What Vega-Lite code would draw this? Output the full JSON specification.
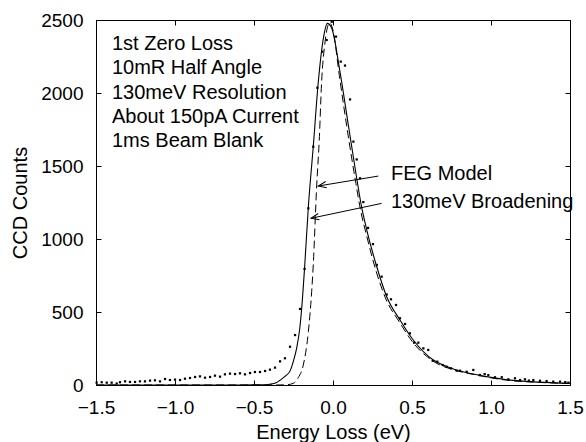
{
  "$schema": "https://vega.github.io/schema/vega-lite/v6.json",
  "width": 474,
  "height": 365,
  "autosize": {"type": "none"},
  "padding": {"left": 96, "top": 20, "right": 16, "bottom": 57},
  "background": "white",
  "config": {
    "view": {"stroke": "#000000", "strokeWidth": 1},
    "font": "Liberation Sans",
    "axis": {
      "labelFont": "Liberation Sans",
      "labelFontSize": 19,
      "labelColor": "#000000",
      "labelFlush": false,
      "labelOverlap": false,
      "titleFont": "Liberation Sans",
      "titleFontSize": 20,
      "titleFontWeight": "normal",
      "titleColor": "#000000",
      "tickColor": "#000000",
      "tickWidth": 1,
      "tickSize": -5,
      "domain": false,
      "grid": false
    }
  },
  "datasets": {
    "dots": [
      {"x": -1.496, "y": 16}, {"x": -1.464, "y": 19}, {"x": -1.432, "y": 16}, {"x": -1.401, "y": 16},
      {"x": -1.369, "y": 10}, {"x": -1.348, "y": 19}, {"x": -1.316, "y": 25}, {"x": -1.285, "y": 21},
      {"x": -1.253, "y": 21}, {"x": -1.222, "y": 25}, {"x": -1.19, "y": 25}, {"x": -1.158, "y": 30},
      {"x": -1.127, "y": 32}, {"x": -1.095, "y": 25}, {"x": -1.063, "y": 41}, {"x": -1.032, "y": 34},
      {"x": -1.0, "y": 37}, {"x": -0.968, "y": 34}, {"x": -0.937, "y": 43}, {"x": -0.905, "y": 48},
      {"x": -0.873, "y": 55}, {"x": -0.842, "y": 59}, {"x": -0.81, "y": 50}, {"x": -0.778, "y": 55},
      {"x": -0.747, "y": 64}, {"x": -0.715, "y": 57}, {"x": -0.684, "y": 73}, {"x": -0.652, "y": 78},
      {"x": -0.62, "y": 75}, {"x": -0.589, "y": 80}, {"x": -0.557, "y": 73}, {"x": -0.525, "y": 82},
      {"x": -0.494, "y": 89}, {"x": -0.462, "y": 89}, {"x": -0.43, "y": 96}, {"x": -0.399, "y": 105},
      {"x": -0.367, "y": 119}, {"x": -0.335, "y": 162}, {"x": -0.304, "y": 183}, {"x": -0.272, "y": 262},
      {"x": -0.24, "y": 342}, {"x": -0.209, "y": 521}, {"x": -0.18, "y": 795}, {"x": -0.156, "y": 1210},
      {"x": -0.125, "y": 1632}, {"x": -0.099, "y": 2036}, {"x": -0.068, "y": 2283}, {"x": -0.04, "y": 2363},
      {"x": -0.008, "y": 2488}, {"x": 0.019, "y": 2386}, {"x": 0.049, "y": 2215}, {"x": 0.076, "y": 2188},
      {"x": 0.108, "y": 1956}, {"x": 0.129, "y": 1667}, {"x": 0.15, "y": 1545}, {"x": 0.171, "y": 1416},
      {"x": 0.192, "y": 1253}, {"x": 0.222, "y": 1076}, {"x": 0.253, "y": 965}, {"x": 0.277, "y": 822},
      {"x": 0.308, "y": 742}, {"x": 0.34, "y": 620}, {"x": 0.367, "y": 587}, {"x": 0.399, "y": 548},
      {"x": 0.424, "y": 457}, {"x": 0.456, "y": 418}, {"x": 0.487, "y": 354}, {"x": 0.513, "y": 290},
      {"x": 0.54, "y": 290}, {"x": 0.572, "y": 251}, {"x": 0.603, "y": 240}, {"x": 0.631, "y": 166},
      {"x": 0.66, "y": 160}, {"x": 0.694, "y": 137}, {"x": 0.72, "y": 125}, {"x": 0.747, "y": 114},
      {"x": 0.783, "y": 98}, {"x": 0.804, "y": 98}, {"x": 0.846, "y": 91}, {"x": 0.888, "y": 103},
      {"x": 0.93, "y": 68}, {"x": 0.96, "y": 75}, {"x": 0.983, "y": 68}, {"x": 1.025, "y": 53},
      {"x": 1.068, "y": 53}, {"x": 1.11, "y": 39}, {"x": 1.152, "y": 46}, {"x": 1.184, "y": 34},
      {"x": 1.215, "y": 39}, {"x": 1.24, "y": 30}, {"x": 1.268, "y": 34}, {"x": 1.31, "y": 29},
      {"x": 1.352, "y": 27}, {"x": 1.394, "y": 23}, {"x": 1.437, "y": 23}, {"x": 1.47, "y": 20},
      {"x": 1.49, "y": 16}
    ],
    "solid": [
      {"x": -1.5, "y": 0}, {"x": -0.6, "y": 0}, {"x": -0.45, "y": 1}, {"x": -0.4, "y": 5},
      {"x": -0.36, "y": 15}, {"x": -0.335, "y": 33}, {"x": -0.3, "y": 62}, {"x": -0.27, "y": 100},
      {"x": -0.25, "y": 165}, {"x": -0.23, "y": 253}, {"x": -0.21, "y": 390}, {"x": -0.198, "y": 527},
      {"x": -0.18, "y": 800}, {"x": -0.156, "y": 1221}, {"x": -0.125, "y": 1632}, {"x": -0.093, "y": 2077},
      {"x": -0.061, "y": 2374}, {"x": -0.036, "y": 2477}, {"x": -0.008, "y": 2443}, {"x": 0.044, "y": 2146},
      {"x": 0.097, "y": 1781}, {"x": 0.15, "y": 1416}, {"x": 0.18, "y": 1225}, {"x": 0.213, "y": 1065},
      {"x": 0.277, "y": 810}, {"x": 0.34, "y": 605}, {"x": 0.424, "y": 445}, {"x": 0.508, "y": 308},
      {"x": 0.635, "y": 171}, {"x": 0.7, "y": 135}, {"x": 0.78, "y": 103}, {"x": 0.888, "y": 75},
      {"x": 1.0, "y": 52}, {"x": 1.1, "y": 36}, {"x": 1.3, "y": 20}, {"x": 1.5, "y": 12}
    ],
    "dashed": [
      {"x": -1.5, "y": 0}, {"x": -0.4, "y": 0}, {"x": -0.3, "y": 1}, {"x": -0.25, "y": 12},
      {"x": -0.22, "y": 50}, {"x": -0.188, "y": 137}, {"x": -0.156, "y": 365}, {"x": -0.135, "y": 639},
      {"x": -0.125, "y": 822}, {"x": -0.103, "y": 1370}, {"x": -0.087, "y": 1678}, {"x": -0.072, "y": 2077},
      {"x": -0.05, "y": 2351}, {"x": -0.022, "y": 2480}, {"x": 0.0, "y": 2430}, {"x": 0.04, "y": 2120},
      {"x": 0.09, "y": 1750}, {"x": 0.145, "y": 1380}, {"x": 0.175, "y": 1195}, {"x": 0.21, "y": 1035},
      {"x": 0.27, "y": 790}, {"x": 0.335, "y": 588}, {"x": 0.42, "y": 432}, {"x": 0.5, "y": 300},
      {"x": 0.63, "y": 166}, {"x": 0.78, "y": 99}, {"x": 0.9, "y": 70}, {"x": 1.1, "y": 33},
      {"x": 1.3, "y": 18}, {"x": 1.5, "y": 10}
    ],
    "notes": [
      {"text": "1st Zero Loss", "x": -1.399, "y": 2295},
      {"text": "10mR Half Angle", "x": -1.399, "y": 2128},
      {"text": "130meV Resolution", "x": -1.399, "y": 1962},
      {"text": "About 150pA Current", "x": -1.399, "y": 1796},
      {"text": "1ms Beam Blank", "x": -1.399, "y": 1630},
      {"text": "FEG Model", "x": 0.367, "y": 1404},
      {"text": "130meV Broadening", "x": 0.367, "y": 1209}
    ],
    "arrows": [
      {"label": "FEG Model", "x": 0.287, "y": 1431, "x2": -0.093, "y2": 1363},
      {"label": "130meV Broadening", "x": 0.308, "y": 1244, "x2": -0.139, "y2": 1142}
    ]
  },
  "layer": [
    {
      "data": {"name": "dots"},
      "mark": {"type": "point", "shape": "square", "size": 5, "filled": true, "color": "#000000", "opacity": 1},
      "encoding": {
        "x": {
          "field": "x", "type": "quantitative",
          "scale": {"domain": [-1.5, 1.5], "nice": false, "zero": false},
          "axis": {"orient": "bottom", "values": [-1.5, -1, -0.5, 0, 0.5, 1, 1.5], "format": ".1f",
                   "title": "Energy Loss (eV)", "labelPadding": 33.5, "labelBaseline": "alphabetic",
                   "titleY": 53.3, "titleBaseline": "alphabetic"}
        },
        "y": {
          "field": "y", "type": "quantitative",
          "scale": {"domain": [0, 2500], "nice": false, "zero": true},
          "axis": {"orient": "left", "values": [0, 500, 1000, 1500, 2000, 2500], "format": "d",
                   "title": "CCD Counts", "labelPadding": 18, "titleX": -76, "titleY": 182.5,
                   "titleBaseline": "middle"}
        }
      }
    },
    {
      "data": {"name": "solid"},
      "mark": {"type": "line", "color": "#000000", "strokeWidth": 1.1, "interpolate": "monotone"},
      "encoding": {
        "x": {"field": "x", "type": "quantitative",
              "axis": {"orient": "top", "values": [-1.5, -1, -0.5, 0, 0.5, 1, 1.5], "labels": false, "title": null}},
        "y": {"field": "y", "type": "quantitative",
              "axis": {"orient": "right", "values": [0, 500, 1000, 1500, 2000, 2500], "labels": false, "title": null}}
      }
    },
    {
      "data": {"name": "dashed"},
      "mark": {"type": "line", "color": "#000000", "strokeWidth": 1, "strokeDash": [8, 4], "interpolate": "monotone"},
      "encoding": {
        "x": {"field": "x", "type": "quantitative", "axis": null},
        "y": {"field": "y", "type": "quantitative", "axis": null}
      }
    },
    {
      "data": {"name": "notes"},
      "mark": {"type": "text", "align": "left", "baseline": "alphabetic", "font": "Liberation Sans", "fontSize": 20, "color": "#000000"},
      "encoding": {
        "x": {"field": "x", "type": "quantitative", "axis": null},
        "y": {"field": "y", "type": "quantitative", "axis": null},
        "text": {"field": "text"}
      }
    },
    {
      "data": {"name": "arrows"},
      "mark": {"type": "rule", "color": "#000000", "strokeWidth": 1},
      "encoding": {
        "x": {"field": "x", "type": "quantitative", "axis": null},
        "y": {"field": "y", "type": "quantitative", "axis": null},
        "x2": {"field": "x2"},
        "y2": {"field": "y2"}
      }
    },
    {
      "data": {"name": "arrows"},
      "transform": [{"filter": "datum.label === 'FEG Model'"}],
      "mark": {"type": "point", "shape": "M1,-0.4L0,0L1,0.4", "size": 256, "filled": false, "color": "#000000", "strokeWidth": 1, "opacity": 1, "angle": 350.5},
      "encoding": {
        "x": {"field": "x2", "type": "quantitative", "axis": null},
        "y": {"field": "y2", "type": "quantitative", "axis": null}
      }
    },
    {
      "data": {"name": "arrows"},
      "transform": [{"filter": "datum.label === '130meV Broadening'"}],
      "mark": {"type": "point", "shape": "M1,-0.4L0,0L1,0.4", "size": 256, "filled": false, "color": "#000000", "strokeWidth": 1, "opacity": 1, "angle": 348},
      "encoding": {
        "x": {"field": "x2", "type": "quantitative", "axis": null},
        "y": {"field": "y2", "type": "quantitative", "axis": null}
      }
    }
  ],
  "resolve": {"axis": {"x": "independent", "y": "independent"}}
}
